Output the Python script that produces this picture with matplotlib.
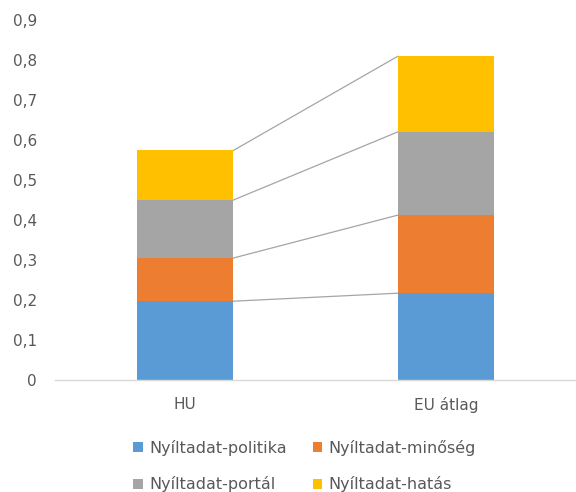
import matplotlib
matplotlib.use("Agg")
import matplotlib.pyplot as plt
from matplotlib.patches import Patch
import numpy as np

categories = ["HU", "EU átlag"]
series_names = ["Nyíltadat-politika", "Nyíltadat-minőség", "Nyíltadat-portál", "Nyíltadat-hatás"]
politika = [0.197, 0.217]
minoseg = [0.108, 0.195]
portal = [0.145, 0.208]
hatas = [0.124, 0.189]
colors = ["#5B9BD5", "#ED7D31", "#A5A5A5", "#FFC000"]
yticks = [0, 0.1, 0.2, 0.3, 0.4, 0.5, 0.6, 0.7, 0.8, 0.9]

plt.rcParams['font.family'] = ['DejaVu Sans']
text_color = "#595959"

fig = plt.figure(figsize=(5.76, 4.92), dpi=100)
ax = fig.add_axes([55/576, 1-380/492, 1-55/576, 360/492])

x = np.arange(len(categories))
width = 0.37
bottom = np.zeros(len(categories))
tops = []
for vals, col in zip([politika, minoseg, portal, hatas], colors):
    v = np.array(vals)
    ax.bar(x, v, width, bottom=bottom, color=col, edgecolor='none', zorder=2)
    bottom = bottom + v
    tops.append(bottom.copy())

for t in tops:
    ax.plot([x[0] + width/2, x[1] - width/2], [t[0], t[1]], color="#A5A5A5", lw=0.9, zorder=1)

ax.set_xlim(-0.5, 1.5)
ax.set_ylim(0, 0.9)
ax.set_yticks(yticks)
ax.set_yticklabels(["0" if v == 0 else f"{v:.1f}".replace('.', ',') for v in yticks])
ax.set_xticks(x)
ax.set_xticklabels(categories)
for s in ['top', 'right', 'left']:
    ax.spines[s].set_visible(False)
ax.spines['bottom'].set_color("#D9D9D9")
ax.spines['bottom'].set_linewidth(1.0)
ax.tick_params(axis='both', length=0, colors=text_color, labelsize=11)
ax.tick_params(axis='y', pad=13)
ax.tick_params(axis='x', pad=12)

handles = [Patch(facecolor=c, edgecolor='none') for c in colors]
order = [0, 2, 1, 3]
leg = fig.legend([handles[i] for i in order], [series_names[i] for i in order],
                 ncol=2, loc='lower center', bbox_to_anchor=(0.529, -0.03), frameon=False,
                 fontsize=11.5, handlelength=0.6, handleheight=0.6, handletextpad=0.4,
                 columnspacing=1.6, labelspacing=1.3, labelcolor=text_color)

fig.savefig("out.png", dpi=100)
